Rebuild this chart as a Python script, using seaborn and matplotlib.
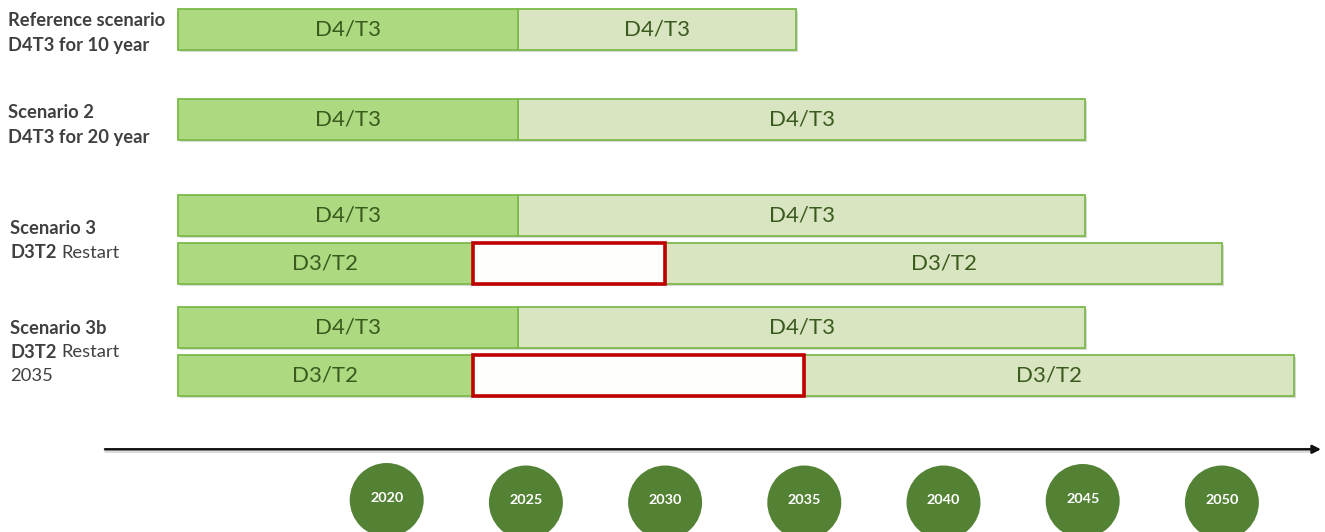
import matplotlib
matplotlib.use("Agg")
import matplotlib.pyplot as plt
import matplotlib.patheffects as pe
import seaborn as sns
import pandas as pd

# ---------------- data ----------------
scenario_lines = [
    [("Reference scenario", "bold")],
    [("D4T3 for 10 year", "bold")],
    [("Scenario 2", "bold")],
    [("D4T3 for 20 year", "bold")],
    [("Scenario 3", "bold")],
    [("D3T2", "bold"), ("Restart", "normal")],
    [("Scenario 3b", "bold")],
    [("D3T2", "bold"), ("Restart", "normal")],
    [("2035", "normal")],
]
bar_labels = ["D4/T3", "D4/T3", "D4/T3", "D3/T2", "D4/T3", "D3/T2"]
bar_start = [2012.5, 2012.5, 2012.5, 2012.5, 2012.5, 2012.5]
phase1_end = [2024.7, 2024.7, 2024.7, 2023.1, 2024.7, 2023.1]
restart_year = [None, None, None, 2030.0, None, 2035.0]
bar_end = [2034.7, 2045.1, 2045.1, 2050.0, 2045.1, 2052.6]
years = [2020, 2025, 2030, 2035, 2040, 2045, 2050]

# ---------------- layout ----------------
sns.set_theme(style="white")
plt.rcParams["font.family"] = ["Lato", "DejaVu Sans"]

W, H = 1325, 532
fig = plt.figure(figsize=(W / 100, H / 100), dpi=100)
ax = fig.add_axes([0, 0, 1, 1])
px_per_year = 27.84
x0_year = 2020 - 386.7 / px_per_year
x1_year = 2020 + (W - 386.7) / px_per_year
ax.set_xlim(x0_year, x1_year)
ax.set_ylim(H, 0)
ax.axis("off")

row_y = [29.5, 119.5, 215.5, 263.5, 327.2, 375.5]
bar_h = 41

dark_fill, light_fill = "#ADDA80", "#D9E4C0"
edge_green = "#7CBA4A"
text_green = "#3A5A1E"
shadow = [pe.SimplePatchShadow(offset=(1.2, -1.6), shadow_rgbFace="#909090", alpha=0.35), pe.Normal()]

for i, y in enumerate(row_y):
    s, p1, r, e = bar_start[i], phase1_end[i], restart_year[i], bar_end[i]
    light_start = r if r is not None else p1
    b = ax.barh(y, p1 - s, left=s, height=bar_h, color=dark_fill,
                edgecolor=edge_green, linewidth=1.3, zorder=3)
    b[0].set_path_effects(shadow)
    b = ax.barh(y, e - light_start, left=light_start, height=bar_h, color=light_fill,
                edgecolor=edge_green, linewidth=1.3, zorder=2)
    b[0].set_path_effects(shadow)
    if r is not None:
        b = ax.barh(y, r - p1, left=p1, height=bar_h, color="#FEFEFC",
                    edgecolor="#C00000", linewidth=2.6, zorder=4)
        b[0].set_path_effects(shadow)
    ax.text((s + p1) / 2, y, bar_labels[i], ha="center", va="center",
            fontsize=16, color=text_green, zorder=5)
    ax.text((light_start + e) / 2, y, bar_labels[i], ha="center", va="center",
            fontsize=16, color=text_green, zorder=5)

# left scenario labels
label_y = [20, 46, 112, 137, 228, 253, 328, 352, 376]
label_x = [8, 8, 8, 8, 10, 10, 10, 10, 10]
renderer = fig.canvas.get_renderer()
for (parts, ly, lx) in zip(scenario_lines, label_y, label_x):
    xpix = lx
    for txt, wgt in parts:
        t = fig.text(xpix / W, 1 - ly / H, txt, ha="left", va="center",
                     fontsize=13.2, fontweight=wgt, color="#404040")
        bb = t.get_window_extent(renderer)
        xpix += bb.width + 5

# timeline arrow
ax.annotate("", xy=(x0_year + 1321 / px_per_year, 449.3),
            xytext=(x0_year + 105 / px_per_year, 449.3),
            arrowprops=dict(arrowstyle="-|>", color="#111111", lw=1.8,
                            mutation_scale=12, shrinkA=0, shrinkB=0),
            zorder=6)
ax.plot([x0_year + 105 / px_per_year, x0_year + 1312 / px_per_year], [451.5, 451.5],
        color="#bbbbbb", lw=1.2, alpha=0.6, zorder=5)

# year circles
circ_y = [500, 502.5, 502.5, 502.5, 502.5, 501, 502.5]
df = pd.DataFrame({"year": years, "y": circ_y})
sns.scatterplot(data=df, x="year", y="y", s=(74 * 0.72) ** 2, color="#548235",
                edgecolor="none", linewidth=0, ax=ax, zorder=7, legend=False)
for yr, cy in zip(years, circ_y):
    ax.text(yr, cy - 2, str(yr), ha="center", va="center", color="white",
            fontsize=10.4, fontweight="bold", zorder=8)

fig.savefig("out.png", dpi=100, facecolor="white")
